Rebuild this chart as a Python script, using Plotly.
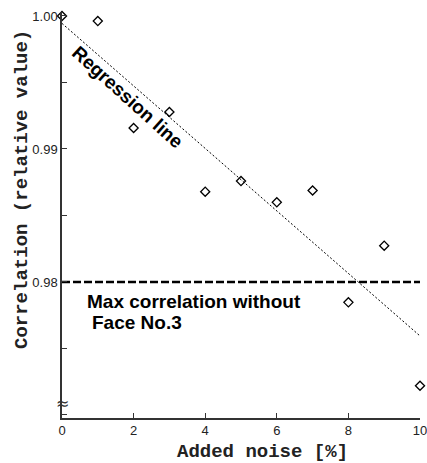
import numpy as np
import plotly.graph_objects as go

noise = [0, 1, 2, 3, 4, 5, 6, 7, 8, 9, 10]
correlation = [1.0000, 0.99962, 0.99158, 0.99278, 0.98679, 0.98759,
               0.98599, 0.98688, 0.97847, 0.98273, 0.97220]
max_corr_without_face3 = 0.98
x_ticks = [0, 2, 4, 6, 8, 10]
y_ticks = [0.98, 0.99, 1.00]
y_tick_labels = ["0.98", "0.99", "1.00"]

slope, intercept = np.polyfit(noise, correlation, 1)
reg_x = [noise[0], noise[-1]]
reg_y = [intercept + slope * v for v in reg_x]

fig = go.Figure()
fig.add_trace(go.Scatter(x=reg_x, y=reg_y, mode="lines",
                         line=dict(color="black", width=1, dash="2px,2px"),
                         hoverinfo="skip", showlegend=False))
fig.add_trace(go.Scatter(x=[noise[0], noise[-1]],
                         y=[max_corr_without_face3] * 2, mode="lines",
                         line=dict(color="black", width=2.5, dash="8px,3px"),
                         showlegend=False))
fig.add_trace(go.Scatter(x=noise, y=correlation, mode="markers",
                         marker=dict(symbol="diamond-open", size=7, color="black",
                                     line=dict(width=1.3, color="black")),
                         cliponaxis=False, showlegend=False))

ann_font = dict(family="Liberation Sans, Arial", size=19, color="black")
fig.update_layout(
    template="none",
    width=427, height=463,
    margin=dict(l=62, r=7, t=12, b=45),
    plot_bgcolor="white", paper_bgcolor="white",
    font=dict(family="Liberation Sans, Arial", size=13, color="#222"),
    xaxis=dict(range=[0, 10], tickvals=x_ticks, ticks="inside", ticklen=5,
               tickcolor="#333", showline=True, linecolor="#333", linewidth=1.5,
               showgrid=False, zeroline=False, ticklabeloverflow="allow",
               automargin=False, tickfont=dict(size=13, color="#222")),
    yaxis=dict(range=[0.969774, 1.0003], tickvals=y_ticks, ticktext=y_tick_labels,
               ticks="inside", ticklen=5, tickcolor="#333",
               showline=True, linecolor="#333", linewidth=1.5,
               showgrid=False, zeroline=False, automargin=False,
               minor=dict(dtick=0.005, tick0=0.96, ticks="inside", ticklen=5,
                          tickcolor="#333", showgrid=False),
               tickfont=dict(size=13, color="#222")),
    annotations=[
        dict(text="<b>Regression line</b>", x=1.85, y=0.99390, xref="x", yref="y",
             showarrow=False, textangle=42, font=ann_font),
        dict(text="<b>Max correlation without</b>", x=0.64, y=0.9785, xref="x", yref="y",
             xanchor="left", showarrow=False, font=ann_font),
        dict(text="<b>Face No.3</b>", x=0.78, y=0.97692, xref="x", yref="y",
             xanchor="left", showarrow=False, font=ann_font),
        dict(text="<b>Correlation (relative value)</b>", x=0, y=0.5616,
             xref="paper", yref="paper", xshift=-40, textangle=-90,
             xanchor="center", yanchor="middle", showarrow=False,
             font=dict(family="Liberation Mono, Courier New", size=19, color="#222")),
        dict(text="<b>Added noise [%]</b>", x=0.559, y=0, xref="paper", yref="paper",
             yshift=-34, xanchor="center", yanchor="middle", showarrow=False,
             font=dict(family="Liberation Mono, Courier New", size=19, color="#222")),
        dict(text="≈", x=0, y=0.9709, xref="x", yref="y", showarrow=False,
             xanchor="center", yanchor="middle",
             font=dict(family="DejaVu Sans", size=16, color="#333")),
    ],
)

fig.write_html("out.html", config={"displayModeBar": False})
with open("out.html", encoding="utf-8") as f:
    html = f.read()
html = html.replace("<head>", "<head><style>html,body{margin:0;padding:0;overflow:hidden;}</style>", 1)
with open("out.html", "w", encoding="utf-8") as f:
    f.write(html)
